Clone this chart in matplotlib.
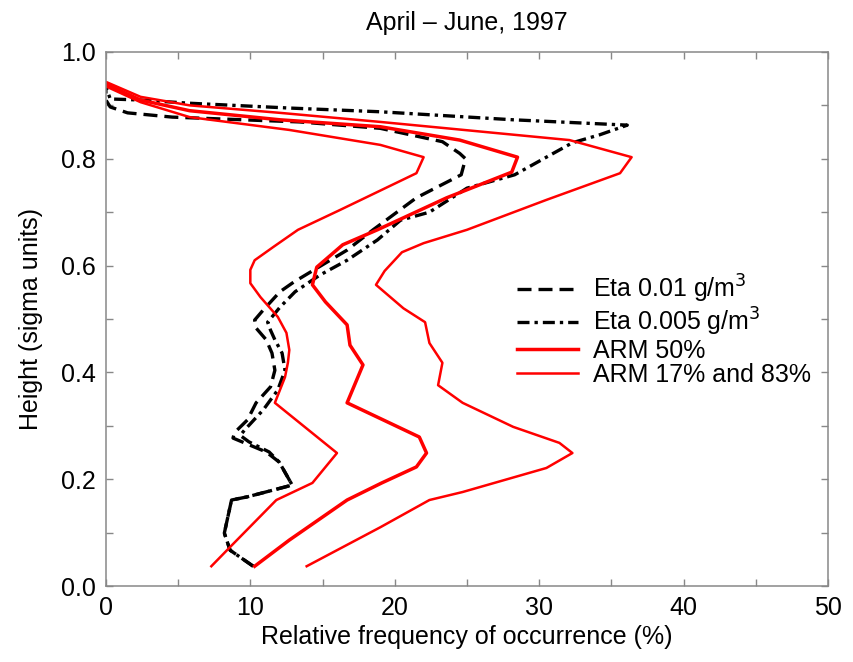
import matplotlib
matplotlib.use('Agg')
import matplotlib.pyplot as plt
from matplotlib.ticker import MultipleLocator

plt.rcParams['font.family'] = ['Liberation Sans', 'DejaVu Sans']

# Eta 0.01 g/m3 (dashed)
eta01_y = [0.037, 0.067, 0.099, 0.161, 0.167, 0.189, 0.232, 0.251, 0.277, 0.287,
           0.311, 0.343, 0.373, 0.404, 0.436, 0.461, 0.483, 0.498, 0.517, 0.551,
           0.569, 0.595, 0.629, 0.667, 0.727, 0.770, 0.800, 0.810, 0.832, 0.857,
           0.869, 0.878, 0.886, 0.897, 0.910, 0.930]
eta01_x = [10.2, 8.6, 8.2, 8.7, 9.8, 12.9, 12.0, 11.1, 8.8, 8.9,
           9.8, 10.4, 11.4, 11.7, 11.5, 11.1, 10.4, 10.3, 10.9, 12.05,
           13.0, 14.6, 16.7, 18.5, 21.5, 24.6, 24.9, 24.5, 23.3, 19.0,
           13.4, 4.6, 1.5, 0.3, 0.0, 0.0]

# Eta 0.005 g/m3 (dash-dot)
eta005_y = [0.037, 0.067, 0.099, 0.161, 0.167, 0.189, 0.232, 0.251, 0.270, 0.282,
            0.292, 0.330, 0.367, 0.404, 0.436, 0.461, 0.479, 0.494, 0.522, 0.551,
            0.582, 0.610, 0.648, 0.685, 0.700, 0.745, 0.770, 0.830, 0.845, 0.863,
            0.873, 0.888, 0.895, 0.904, 0.910, 0.912, 0.935]
eta005_x = [10.2, 8.6, 8.2, 8.7, 9.8, 12.9, 12.0, 11.3, 9.9, 9.3,
            9.6, 10.9, 11.9, 12.4, 12.2, 11.7, 11.4, 11.2, 12.05, 13.1,
            14.8, 16.7, 18.8, 20.4, 22.4, 25.0, 28.3, 32.3, 34.2, 36.1,
            28.2, 19.0, 12.7, 5.8, 2.4, 0.3, 0.0]

# ARM 50%
arm50_y = [0.037, 0.086, 0.161, 0.193, 0.223, 0.249, 0.279, 0.343, 0.414, 0.451,
           0.489, 0.532, 0.564, 0.597, 0.639, 0.667, 0.727, 0.775, 0.803, 0.835,
           0.860, 0.873, 0.890, 0.910, 0.940]
arm50_x = [10.3, 12.7, 16.7, 19.1, 21.5, 22.2, 21.7, 16.7, 17.8, 16.9,
           16.7, 15.2, 14.3, 14.6, 16.4, 18.8, 23.6, 28.1, 28.5, 24.5,
           19.0, 12.05, 5.8, 2.4, 0.0]

# ARM 17%
arm17_y = [0.037, 0.073, 0.161, 0.193, 0.249, 0.343, 0.391, 0.418, 0.442, 0.474,
           0.504, 0.541, 0.567, 0.592, 0.610, 0.635, 0.667, 0.704, 0.773, 0.803,
           0.826, 0.854, 0.878, 0.906, 0.935]
arm17_x = [7.3, 8.6, 11.8, 14.3, 16.0, 11.7, 12.4, 12.6, 12.7, 12.5,
           11.9, 10.7, 10.0, 10.0, 10.3, 11.6, 13.3, 16.2, 21.5, 22.0,
           19.0, 12.7, 5.8, 2.4, 0.05]

# ARM 83%
arm83_y = [0.037, 0.110, 0.161, 0.176, 0.221, 0.249, 0.268, 0.298, 0.343, 0.376,
           0.418, 0.455, 0.494, 0.520, 0.564, 0.590, 0.625, 0.642, 0.667, 0.723,
           0.773, 0.803, 0.835, 0.869, 0.886, 0.900, 0.916, 0.944]
arm83_x = [13.9, 19.0, 22.4, 24.7, 30.5, 32.3, 31.4, 28.2, 24.7, 23.0,
           23.3, 22.4, 22.1, 20.6, 18.7, 19.3, 20.5, 22.0, 25.0, 30.5,
           35.6, 36.4, 32.1, 19.0, 12.05, 5.8, 2.4, 0.0]

fig = plt.figure(figsize=(8.54, 6.62), dpi=100)
ax = fig.add_axes([0.124, 0.1148, 0.8456, 0.8067])

ax.plot(eta01_x, eta01_y, color='black', lw=2.4, linestyle=(0, (4.2, 2.1)),
        label='Eta 0.01 g/m$^3$')
ax.plot(eta005_x, eta005_y, color='black', lw=2.4, linestyle=(0, (3.6, 1.5, 1.0, 1.5)),
        label='Eta 0.005 g/m$^3$')
ax.plot(arm50_x, arm50_y, color='#ff0000', lw=2.5, label='ARM 50%')
ax.plot(arm17_x, arm17_y, color='#ff0000', lw=1.8, label='ARM 17% and 83%')
ax.plot(arm83_x, arm83_y, color='#ff0000', lw=1.8)

ax.set_xlim(0, 50)
ax.set_ylim(0, 1.0)
ax.xaxis.set_major_locator(MultipleLocator(10))
ax.xaxis.set_minor_locator(MultipleLocator(5))
ax.yaxis.set_major_locator(MultipleLocator(0.2))
ax.yaxis.set_minor_locator(MultipleLocator(0.1))
ax.tick_params(which='both', direction='in', top=True, right=True,
               color='#888888', width=1.0, labelsize=18, pad=7, length=5)
for s in ax.spines.values():
    s.set_color('#888888')
    s.set_linewidth(1.1)

ax.set_xlabel('Relative frequency of occurrence (%)', fontsize=18, labelpad=4)
ax.set_ylabel('Height (sigma units)', fontsize=18, labelpad=13)
ax.set_title('April \u2013 June, 1997', fontsize=18, pad=16)

ax.legend(loc='center left', bbox_to_anchor=(0.569, 0.479), frameon=False,
          fontsize=18, handlelength=2.45, handletextpad=0.6, labelspacing=0.02,
          borderpad=0, borderaxespad=0)

fig.savefig('out.png', dpi=100)
